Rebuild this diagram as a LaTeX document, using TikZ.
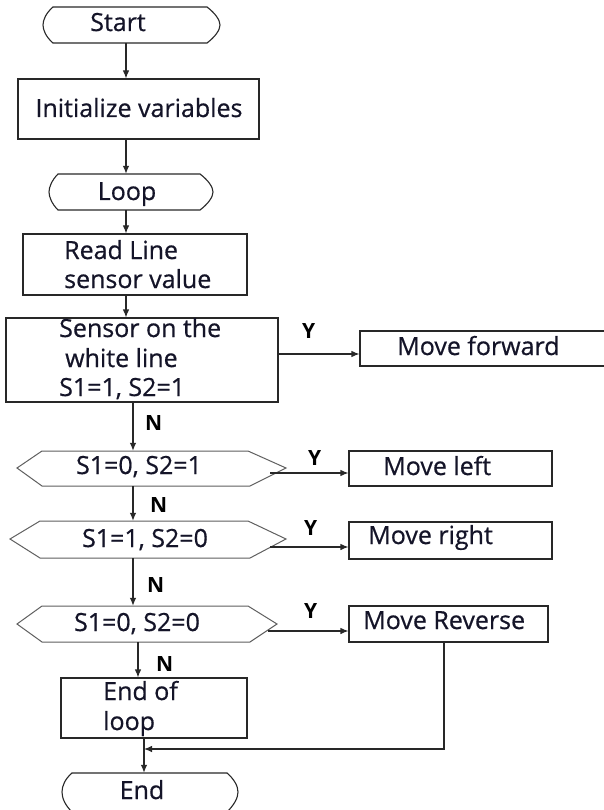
\documentclass[tikz,border=0pt]{standalone}
\usepackage{fontspec}
\setmainfont{Open Sans}
\newfontfamily\bodyfont[FakeBold=0.6]{Open Sans}
\usetikzlibrary{arrows.meta}
\definecolor{ink}{RGB}{20,20,40}
\definecolor{lc}{RGB}{40,40,40}
\definecolor{hexlc}{RGB}{95,95,95}
\begin{document}
\begin{tikzpicture}[x=1pt,y=-1pt,
  txt/.style={font=\bodyfont\fontsize{25}{29}\selectfont, text=ink, inner sep=0pt},
  lbl/.style={font=\fontsize{21}{24}\selectfont\bfseries, text=black, inner sep=0pt},
  box/.style={draw=lc, line width=1.1pt, rectangle, inner sep=0pt},
  frame/.style={rectangle, inner sep=0pt},
  shp/.style={draw=lc, line width=1.1pt},
  hexshp/.style={draw=hexlc, line width=1pt},
  arr/.style={draw=lc, line width=1.1pt, -{Latex[length=8pt,width=6.5pt]}}]
\useasboundingbox (0,0) rectangle (604,810);
\fill[white] (0,0) rectangle (604,810);

% terminals
\draw[shp] (53,7) -- (207,7) .. controls (215,13) and (220,20) .. (220,25) .. controls (220,30) and (215,37) .. (207,43) -- (53,43) .. controls (46,37) and (43,30) .. (43,25) .. controls (43,20) and (46,13) .. (53,7) -- cycle;
\node[frame, minimum width=177pt, minimum height=36pt] (start) at (131.5,25) {};
\node[txt, anchor=base] (startt) at (118,31) {Start};

\draw[shp] (58,174) -- (200,174) .. controls (208,180) and (213,187) .. (213,192) .. controls (213,197) and (208,204) .. (200,210) -- (58,210) .. controls (52,204) and (49,197) .. (49,192) .. controls (49,187) and (52,180) .. (58,174) -- cycle;
\node[frame, minimum width=164pt, minimum height=36pt] (loop) at (131,192) {};
\node[txt, anchor=base] (loopt) at (127,200) {Loop};

\draw[shp] (72,773) -- (227,773) .. controls (234,779) and (238,786) .. (238,792) .. controls (238,798) and (234,805) .. (227,812) -- (72,812) .. controls (65,805) and (62,798) .. (62,792) .. controls (62,786) and (65,779) .. (72,773) -- cycle;
\node[frame, minimum width=176pt, minimum height=38pt] (end) at (150,792) {};
\node[txt, anchor=base] (endt) at (142,799) {End};

% boxes
\node[box, minimum width=241pt, minimum height=60pt] (init) at (138.5,109) {};
\node[txt, anchor=base] (initt) at (139,117) {Initialize variables};

\node[box, minimum width=224pt, minimum height=61pt] (read) at (135,264.5) {};
\node[txt, anchor=base west] (read1) at (64,259) {Read Line};
\node[txt, anchor=base west] (read2) at (64,288) {sensor value};

\node[box, minimum width=272pt, minimum height=84pt] (sensor) at (142,360) {};
\node[txt, anchor=base west] (sen1) at (59,337) {Sensor on the};
\node[txt, anchor=base west] (sen2) at (65,367) {white line};
\node[txt, anchor=base west] (sen3) at (59,396) {S1=1, S2=1};

\node[box, minimum width=250pt, minimum height=35pt] (fwd) at (485,348.5) {};
\node[txt, anchor=base west] (fwdt) at (397,355) {Move forward};

\node[box, minimum width=203pt, minimum height=35pt] (left) at (450.5,468.5) {};
\node[txt, anchor=base west] (leftt) at (383,475) {Move left};

\node[box, minimum width=203pt, minimum height=37pt] (right) at (450.5,540.5) {};
\node[txt, anchor=base west] (rightt) at (368,544) {Move right};

\node[box, minimum width=199pt, minimum height=36pt] (rev) at (448.5,624) {};
\node[txt, anchor=base west] (revt) at (363,629) {Move Reverse};

\node[box, minimum width=186pt, minimum height=60pt] (eol) at (154,708) {};
\node[txt, anchor=base west] (eol1) at (103,700) {End of};
\node[txt, anchor=base west] (eol2) at (103,730) {loop};

% decisions
\draw[hexshp] (17,468) -- (42,451) -- (248,451) -- (286,468) -- (250,486) -- (42,486) -- cycle;
\node[frame, minimum width=269pt, minimum height=35pt] (d1) at (151.5,468.5) {};
\node[txt, anchor=base] (d1t) at (139,474) {S1=0, S2=1};

\draw[hexshp] (10,539) -- (40,521) -- (248,521) -- (286,539) -- (250,558) -- (40,558) -- cycle;
\node[frame, minimum width=276pt, minimum height=37pt] (d2) at (148,539.5) {};
\node[txt, anchor=base] (d2t) at (145,547) {S1=1, S2=0};

\draw[hexshp] (17,624) -- (42,606) -- (248,606) -- (277,624) -- (250,642) -- (42,642) -- cycle;
\node[frame, minimum width=260pt, minimum height=36pt] (d3) at (147,624) {};
\node[txt, anchor=base] (d3t) at (137,631) {S1=0, S2=0};

% helper coordinates
\coordinate (xa) at (126,0);
\coordinate (xb) at (133,0);
\coordinate (xc) at (138,0);
\coordinate (xd) at (144,0);
\coordinate (xe) at (444,0);
\coordinate (ya) at (0,354);
\coordinate (h1) at (270,473);
\coordinate (h2) at (270,547);
\coordinate (h3) at (268,631);
\coordinate (ym) at (0,749);

% connectors
\draw[arr] (start.south -| xa) -- (init.north -| xa);
\draw[arr] (init.south -| xa) -- (loop.north -| xa);
\draw[arr] (loop.south -| xa) -- (read.north -| xa);
\draw[arr] (read.south -| xa) -- (sensor.north -| xa);
\draw[arr] (sensor.east |- ya) -- (fwd.west |- ya);
\draw[arr] (sensor.south -| xb) -- (d1.north -| xb);
\draw[arr] (h1) -- (left.west |- h1);
\draw[arr] (d1.south -| xb) -- (d2.north -| xb);
\draw[arr] (h2) -- (right.west |- h2);
\draw[arr] (d2.south -| xb) -- (d3.north -| xb);
\draw[arr] (h3) -- (rev.west |- h3);
\draw[arr] (d3.south -| xc) -- (eol.north -| xc);
\draw[arr] (eol.south -| xd) -- (end.north -| xd);
\draw[arr] (rev.south -| xe) -- (xe |- ym) -- (xd |- ym);

% labels
\node[lbl, anchor=base west] (y1) at (302,338) {Y};
\node[lbl, anchor=base west] (n1) at (145,430) {N};
\node[lbl, anchor=base west] (y2) at (308,465) {Y};
\node[lbl, anchor=base west] (n2) at (150,512) {N};
\node[lbl, anchor=base west] (y3) at (304,535) {Y};
\node[lbl, anchor=base west] (n3) at (147,592) {N};
\node[lbl, anchor=base west] (y4) at (304,618) {Y};
\node[lbl, anchor=base west] (n4) at (156,671) {N};
\end{tikzpicture}
\end{document}
